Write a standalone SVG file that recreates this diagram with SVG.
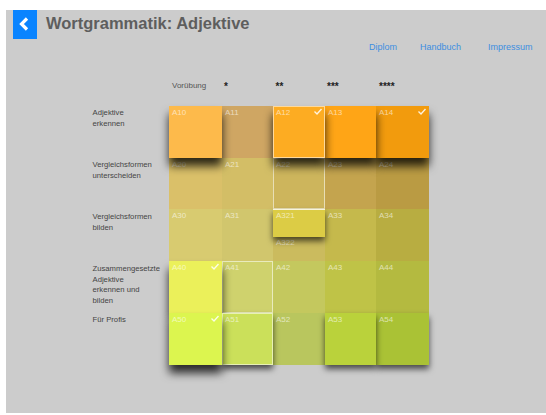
<svg xmlns="http://www.w3.org/2000/svg" width="546" height="415" viewBox="0 0 546 415">
<defs>
<style>
.lbl{font-family:"Liberation Sans",Arial,sans-serif;font-size:7.7px;fill:#444}
.hdr{font-family:"Liberation Sans",Arial,sans-serif;font-size:8px;fill:#555}
.star{font-family:"Liberation Sans",Arial,sans-serif;font-size:10px;font-weight:bold;fill:#222}
.lnk{font-family:"Liberation Sans",Arial,sans-serif;font-size:9px;fill:#3d8ee0}
.ct{font-family:"Liberation Sans",Arial,sans-serif;font-size:8px;fill:#fff;fill-opacity:0.6}
.chk{fill:none;stroke:#fff;stroke-opacity:0.85;stroke-width:1.4}
.sel{fill:none;stroke:#fff;stroke-opacity:0.55;stroke-width:1}
</style>
<filter id="sh" x="-40%" y="-40%" width="180%" height="200%">
<feDropShadow dx="0" dy="8" stdDeviation="5" flood-color="#000" flood-opacity="0.8"/>
</filter>
<filter id="sh2" x="-40%" y="-60%" width="180%" height="240%">
<feDropShadow dx="0" dy="4" stdDeviation="3" flood-color="#000" flood-opacity="0.65"/>
</filter>
</defs>
<rect width="546" height="415" fill="#fff"/>
<rect x="6" y="10" width="540" height="403" fill="#cccccc"/>
<g id="header">
<rect x="13" y="10" width="24" height="29" fill="#0a84ff"/>
<polyline points="27,18.5 21.5,24 27,29.5" fill="none" stroke="#fff" stroke-width="3.2"/>
<text x="46" y="29" font-family="'Liberation Sans',Arial,sans-serif" font-weight="bold" font-size="16.5" fill="#5e5e5e">Wortgrammatik: Adjektive</text>
<text class="lnk" x="369" y="50">Diplom</text>
<text class="lnk" x="420" y="50">Handbuch</text>
<text class="lnk" x="488" y="50">Impressum</text>
</g>
<g id="col-headers">
<text class="hdr" x="172" y="88">Vorübung</text>
<text class="star" x="224" y="90">*</text>
<text class="star" x="275.5" y="90">**</text>
<text class="star" x="327" y="90">***</text>
<text class="star" x="379" y="90">****</text>
</g>
<g id="row-labels">
<text class="lbl" x="92.5" y="115">Adjektive</text>
<text class="lbl" x="92.5" y="126">erkennen</text>
<text class="lbl" x="92.5" y="167">Vergleichsformen</text>
<text class="lbl" x="92.5" y="178">unterscheiden</text>
<text class="lbl" x="92.5" y="219">Vergleichsformen</text>
<text class="lbl" x="92.5" y="230">bilden</text>
<text class="lbl" x="92.5" y="271">Zusammengesetzte</text>
<text class="lbl" x="92.5" y="281.5">Adjektive</text>
<text class="lbl" x="92.5" y="292">erkennen und</text>
<text class="lbl" x="92.5" y="302.5">bilden</text>
<text class="lbl" x="92.5" y="322">Für Profis</text>
</g>
<g id="connectors"/>
<g id="A11"><rect x="222" y="106" width="51" height="52" fill="#cfa663"/><text class="ct" x="225" y="115">A11</text></g>
<g id="A20"><rect x="169" y="158" width="53" height="51" fill="#dac069"/><text class="ct" x="172" y="167">A20</text></g>
<g id="A21"><rect x="222" y="158" width="51" height="51" fill="#d3be66"/><text class="ct" x="225" y="167">A21</text></g>
<g id="A22"><rect x="273" y="158" width="52" height="51" fill="#cdb55c"/><rect class="sel" x="273.5" y="158.5" width="51" height="50"/><text class="ct" x="276" y="167">A22</text></g>
<g id="A23"><rect x="325" y="158" width="51" height="51" fill="#c4a44e"/><text class="ct" x="328" y="167">A23</text></g>
<g id="A24"><rect x="376" y="158" width="53" height="51" fill="#ba9b43"/><text class="ct" x="379" y="167">A24</text></g>
<g id="A30"><rect x="169" y="209" width="53" height="52" fill="#d8cb70"/><text class="ct" x="172" y="218">A30</text></g>
<g id="A31"><rect x="222" y="209" width="51" height="52" fill="#d1c66d"/><text class="ct" x="225" y="218">A31</text></g>
<g id="A322"><rect x="273" y="209" width="52" height="52" fill="#cbbb5e"/><text class="ct" x="276" y="245">A322</text></g>
<g id="A33"><rect x="325" y="209" width="51" height="52" fill="#c5b94c"/><text class="ct" x="328" y="218">A33</text></g>
<g id="A34"><rect x="376" y="209" width="53" height="52" fill="#b8ad41"/><text class="ct" x="379" y="218">A34</text></g>
<g id="A41"><rect x="222" y="261" width="51" height="52" fill="#cfd26d"/><rect class="sel" x="222.5" y="261.5" width="50" height="51"/><text class="ct" x="225" y="270">A41</text></g>
<g id="A42"><rect x="273" y="261" width="52" height="52" fill="#c4c85e"/><text class="ct" x="276" y="270">A42</text></g>
<g id="A43"><rect x="325" y="261" width="51" height="52" fill="#bfc347"/><text class="ct" x="328" y="270">A43</text></g>
<g id="A44"><rect x="376" y="261" width="53" height="52" fill="#b4ba40"/><text class="ct" x="379" y="270">A44</text></g>
<g id="A52"><rect x="273" y="313" width="52" height="52" fill="#b9c65e"/><text class="ct" x="276" y="322">A52</text></g>
<g id="A14"><rect x="376" y="106" width="53" height="52" fill="#f29b08" filter="url(#sh)"/><text class="ct" x="379" y="115">A14</text><polyline class="chk" points="418.5,111.5 421,114 425.5,109"/></g>
<g id="A13"><rect x="325" y="106" width="51" height="52" fill="#ffa514" filter="url(#sh)"/><text class="ct" x="328" y="115">A13</text></g>
<g id="A12"><rect x="273" y="106" width="52" height="52" fill="#fdac22" filter="url(#sh)"/><rect class="sel" x="273.5" y="106.5" width="51" height="51"/><text class="ct" x="276" y="115">A12</text><polyline class="chk" points="314.5,111.5 317,114 321.5,109"/></g>
<g id="A10"><rect x="169" y="106" width="53" height="52" fill="#fdba4c" filter="url(#sh)"/><text class="ct" x="172" y="115">A10</text></g>
<g id="A321"><rect x="273" y="209" width="52" height="28" fill="#dccc45" filter="url(#sh2)"/><line x1="273" y1="209.5" x2="325" y2="209.5" stroke="#fff" stroke-opacity="0.8"/><text class="ct" x="276" y="218">A321</text></g>
<g id="A40"><rect x="169" y="261" width="53" height="52" fill="#ebf05a" filter="url(#sh)"/><text class="ct" x="172" y="270">A40</text><polyline class="chk" points="211.5,266.5 214,269 218.5,264"/></g>
<g id="A54"><rect x="376" y="313" width="53" height="52" fill="#aac236" filter="url(#sh2)"/><text class="ct" x="379" y="322">A54</text></g>
<g id="A53"><rect x="325" y="313" width="51" height="52" fill="#bad23a" filter="url(#sh2)"/><text class="ct" x="328" y="322">A53</text></g>
<g id="A51"><rect x="222" y="313" width="51" height="52" fill="#cbe05a" filter="url(#sh2)"/><rect class="sel" x="222.5" y="313.5" width="50" height="51"/><text class="ct" x="225" y="322">A51</text></g>
<g id="A50"><rect x="169" y="313" width="53" height="52" fill="#dcf54f" filter="url(#sh)"/><text class="ct" x="172" y="322">A50</text><polyline class="chk" points="211.5,318.5 214,321 218.5,316"/></g>
</svg>
